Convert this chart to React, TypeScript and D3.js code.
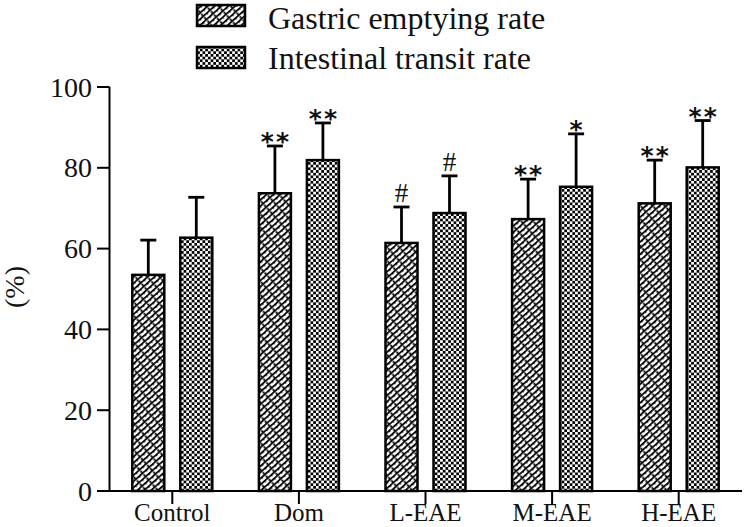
import React from "react";
import * as d3 from "d3";

const categories = ["Control", "Dom", "L-EAE", "M-EAE", "H-EAE"];
const seriesNames = ["Gastric emptying rate", "Intestinal transit rate"];
const gastric = [53.5, 73.7, 61.4, 67.3, 71.2];
const gastricErr = [8.6, 11.7, 8.9, 9.9, 10.7];
const intestinal = [62.7, 81.9, 68.8, 75.3, 80.1];
const intestinalErr = [10.0, 9.2, 9.2, 13.1, 11.6];
const gastricSig = ["", "**", "#", "**", "**"];
const intestinalSig = ["", "**", "#", "*", "**"];
const yTicks = [0, 20, 40, 60, 80, 100];

const W = 746;
const H = 527;

export default function App() {
  const x = d3.scaleBand<string>().domain(categories).range([109, 742]);
  const y = d3.scaleLinear().domain([0, 100]).range([491, 87]);
  const barW = 32;
  const series = [
    { vals: gastric, errs: gastricErr, sig: gastricSig, off: -40, fill: "url(#brick)" },
    { vals: intestinal, errs: intestinalErr, sig: intestinalSig, off: 8, fill: "url(#checker)" },
  ];
  const serif = "'Liberation Serif', 'Times New Roman', serif";
  const center = (c: string) => (x(c) as number) + x.bandwidth() / 2;

  return (
    <svg width={W} height={H} style={{ position: "absolute", left: 0, top: 0, background: "#fff" }}>
      <defs>
        <pattern id="brick" width="9" height="4.6" patternUnits="userSpaceOnUse" patternTransform="rotate(-42)">
          <rect width="9" height="4.6" fill="#fff" />
          <line x1="0" y1="0.8" x2="9" y2="0.8" stroke="#000" strokeWidth="1.8" />
          <line x1="0.8" y1="0" x2="0.8" y2="2.3" stroke="#000" strokeWidth="1.8" />
          <line x1="5.3" y1="2.3" x2="5.3" y2="4.6" stroke="#000" strokeWidth="1.8" />
        </pattern>
        <pattern id="checker" width="5.4" height="5.4" patternUnits="userSpaceOnUse">
          <rect width="5.4" height="5.4" fill="#fff" />
          <rect x="0" y="0" width="2.7" height="2.7" fill="#000" />
          <rect x="2.7" y="2.7" width="2.7" height="2.7" fill="#000" />
        </pattern>
      </defs>

      {/* Legend */}
      {seriesNames.map((name, i) => (
        <g key={name}>
          <rect x={197} y={i === 0 ? 5 : 47} width={48} height={21} fill={series[i].fill} stroke="#000" strokeWidth={2.5} />
          <text x={268} y={i === 0 ? 29 : 69} fontFamily={serif} fontSize={32} fill="#111">{name}</text>
        </g>
      ))}

      {/* Bars, error bars, significance */}
      {series.map((s, si) =>
        categories.map((c, ci) => {
          const bx = center(c) + s.off;
          const top = y(s.vals[ci]);
          const et = y(s.vals[ci] + s.errs[ci]);
          const mid = bx + barW / 2;
          const isHash = s.sig[ci] === "#";
          return (
            <g key={`${si}-${c}`}>
              <line x1={mid} x2={mid} y1={top} y2={et} stroke="#000" strokeWidth={2.8} />
              <line x1={mid - 8} x2={mid + 8} y1={et} y2={et} stroke="#000" strokeWidth={2.8} />
              <rect x={bx} y={top} width={barW} height={y(0) - top} fill={s.fill} stroke="#000" strokeWidth={2.5} />
              {s.sig[ci] && (
                isHash ? (
                  <text x={mid} y={et - 5} textAnchor="middle" fontFamily={serif} fontSize={27} fill="#111">{s.sig[ci]}</text>
                ) : (
                  <text x={mid + 1} y={et + 4} textAnchor="middle" fontFamily="'DejaVu Sans', sans-serif" fontWeight="bold" fontSize={25} fill="#111" letterSpacing={2}>{s.sig[ci]}</text>
                )
              )}
            </g>
          );
        })
      )}

      {/* Y axis */}
      <line x1={109.5} x2={109.5} y1={y(100)} y2={y(0) + 1} stroke="#000" strokeWidth={2} />
      {yTicks.map((t) => (
        <g key={t}>
          <line x1={97} x2={109.5} y1={y(t)} y2={y(t)} stroke="#000" strokeWidth={2} />
          <text x={92} y={y(t)} dy="0.34em" textAnchor="end" fontFamily={serif} fontSize={28} fill="#111">{t}</text>
        </g>
      ))}
      <text transform="translate(14,287) rotate(-90)" textAnchor="middle" dy="0.34em" fontFamily={serif} fontSize={28} fill="#111">(%)</text>

      {/* X axis */}
      <line x1={109.5} x2={742} y1={y(0)} y2={y(0)} stroke="#000" strokeWidth={2} />
      {categories.map((c) => (
        <g key={c}>
          <line x1={center(c)} x2={center(c)} y1={y(0)} y2={y(0) + 13} stroke="#000" strokeWidth={2} />
          <text x={center(c)} y={521} textAnchor="middle" fontFamily={serif} fontSize={25} fill="#111">{c}</text>
        </g>
      ))}
    </svg>
  );
}
